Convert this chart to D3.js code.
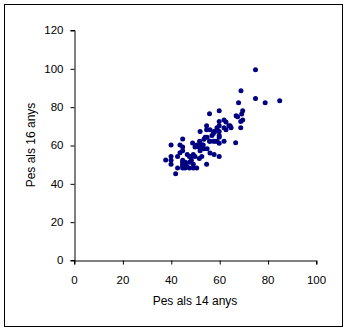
<!DOCTYPE html>
<html>
<head>
<meta charset="utf-8">
<script src="https://cdn.jsdelivr.net/npm/d3@7"></script>
<style>
  html, body { margin: 0; padding: 0; background: #fff; }
  svg { display: block; }
  text { font-family: "Liberation Sans", Arial, sans-serif; fill: #000; }
</style>
</head>
<body>
<svg id="chart" width="346" height="331"></svg>
<script>
// Data: weight at 14 years (x) and at 16 years (y)
const pes14 = [75, 69, 75, 79, 85, 68, 60, 56, 67, 67.6, 69.3, 69.7, 68.9, 69.7, 68.9, 66.8,
  62, 62.8, 62, 62.8, 64.5, 64.9, 64, 62, 60, 60, 59.1, 59.1, 60, 58.3, 60, 60, 60, 59.1, 58.3,
  57.6, 57, 57.9, 56.2, 54.8, 54.8, 54.2, 55, 53.7, 56, 56.2, 57.6, 52.1, 51.9, 52.1, 50.7, 53,
  51.5, 52.8, 53.4, 53.7, 56.2, 57.9, 60, 54.8, 52.1, 52.8, 51.8, 50, 49.3, 50, 49, 48.5, 47.7,
  46.8, 48.5, 47.7, 49.3, 47.7, 49.3, 44.9, 43.8, 44.9, 43.8, 44.9, 42.8, 40.1, 40.1, 40.1, 40.1,
  37.9, 42, 42.8, 44.9, 44.9, 44.9, 44.9, 44.9, 45.9, 45.9, 45.9, 46.5, 50.7, 55, 52.5];
const pes16 = [99.3, 88.3, 84.2, 82.1, 83.1, 82.1, 77.9, 76.3, 75.3, 74.8, 76.2, 77.9, 72.2, 73, 69, 61.2,
  73, 72, 69, 68, 70, 69, 70, 62, 72.2, 70, 69, 68, 67, 67, 65, 64, 60.9, 62, 62,
  66, 65, 67, 68, 68, 70, 64, 64, 63, 62, 62, 62, 67, 62, 60, 60, 60,
  59, 59, 60, 58, 55.8, 55, 54, 50, 57, 54, 53, 54, 55, 59, 61, 54, 54,
  55, 52, 51, 50, 48, 48, 63.1, 60, 59, 56, 57, 54, 60, 54, 52, 50,
  52.2, 45, 48, 52, 51, 50, 49, 48, 50, 48, 51, 49, 48, 58, 60];

const xTicks = [0, 20, 40, 60, 80, 100];
const yTicks = [0, 20, 40, 60, 80, 100, 120];
const xTitle = "Pes als 14 anys";
const yTitle = "Pes als 16 anys";

const svg = d3.select("#chart");

// outer frame
svg.append("rect")
  .attr("x", 4.5).attr("y", 4.5)
  .attr("width", 338).attr("height", 322)
  .attr("fill", "none").attr("stroke", "#000").attr("stroke-width", 1);

const x = d3.scaleLinear().domain([0, 100]).range([74, 316]);
const y = d3.scaleLinear().domain([0, 120]).range([260, 30]);

const gx = svg.append("g")
  .attr("transform", "translate(0,260.5)")
  .call(d3.axisBottom(x).tickValues(xTicks).tickSize(4).tickPadding(11).tickFormat(d3.format("d")));
const gy = svg.append("g")
  .attr("transform", "translate(74.5,0)")
  .call(d3.axisLeft(y).tickValues(yTicks).tickSize(4).tickPadding(7).tickFormat(d3.format("d")));

[gx, gy].forEach(g => {
  g.selectAll("path.domain").attr("stroke", "#000").attr("stroke-width", 1);
  g.selectAll(".tick line").attr("stroke", "#000");
  g.selectAll(".tick text")
    .style("font-family", '"Liberation Sans", Arial, sans-serif')
    .style("font-size", "11.5px").attr("fill", "#000");
});
gx.selectAll(".tick line").attr("transform", "translate(0.5,0)");
gy.selectAll(".tick line").attr("transform", "translate(0,0.5)");

// axis titles
svg.append("text")
  .attr("x", 195).attr("y", 305)
  .attr("text-anchor", "middle")
  .style("font-size", "12px")
  .text(xTitle);
svg.append("text")
  .attr("transform", "translate(35,145) rotate(-90)")
  .attr("text-anchor", "middle")
  .style("font-size", "12px")
  .text(yTitle);

// points
const pts = pes14.map((v, i) => [v, pes16[i]]);
svg.append("g").selectAll("circle")
  .data(pts).join("circle")
  .attr("cx", d => x(d[0]))
  .attr("cy", d => y(d[1]))
  .attr("r", 2.5)
  .attr("fill", "#000080");
</script>
</body>
</html>
